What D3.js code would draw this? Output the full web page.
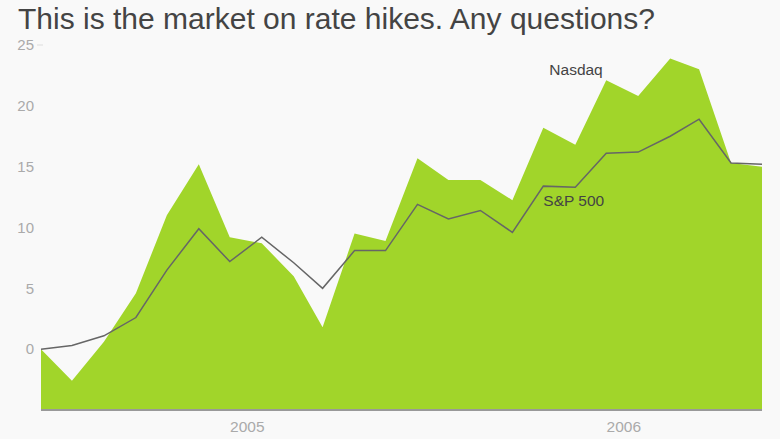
<!DOCTYPE html>
<html>
<head>
<meta charset="utf-8">
<script src="https://cdn.jsdelivr.net/npm/d3@7"></script>
<style>
  html, body { margin: 0; padding: 0; background: #f9f9f9; }
  svg { display: block; }
  text { font-family: "Liberation Sans", Arial, sans-serif; }
</style>
</head>
<body>
<svg id="chart" width="780" height="439"></svg>
<script>
// ---- data ----
const months = [
  "2004-06-15","2004-07-15","2004-08-15","2004-09-15","2004-10-15","2004-11-15",
  "2004-12-15","2005-01-15","2005-02-15","2005-03-15","2005-04-15","2005-05-15",
  "2005-06-15","2005-07-15","2005-08-15","2005-09-15","2005-10-15","2005-11-15",
  "2005-12-15","2006-01-15","2006-02-15","2006-03-15","2006-04-15","2006-05-15"
];
const nasdaq = [0, -2.6, 0.6, 4.6, 11.0, 15.2, 9.2, 8.7, 6.0, 1.8, 9.5, 8.9,
                15.7, 13.9, 13.9, 12.25, 18.2, 16.8, 22.1, 20.8, 23.9, 23.0, 15.3, 15.0];
const sp500  = [0, 0.3, 1.1, 2.6, 6.5, 9.9, 7.2, 9.2, 7.1, 5.0, 8.1, 8.1,
                11.9, 10.7, 11.4, 9.6, 13.4, 13.3, 16.1, 16.2, 17.5, 18.9, 15.3, 15.2];
const yTicks = [0, 5, 10, 15, 20, 25];
const xTickLabels = ["2005", "2006"];
const title = "This is the market on rate hikes. Any questions?";
const labelNasdaq = "Nasdaq";
const labelSP = "S&P 500";

(function () {
// ---- layout ----
const parse = d3.timeParse("%Y-%m-%d");
const dates = months.map(parse);
const svg = d3.select("#chart");
const mLeft = 41, mRight = 762, mTop = 45, mBottom = 410;

const x = d3.scaleTime().domain(d3.extent(dates)).range([mLeft, mRight]);
const y = d3.scaleLinear().domain([-5, 25]).range([mBottom, mTop]);

svg.append("text")
  .attr("x", 18).attr("y", 29)
  .attr("font-size", 30).attr("fill", "#444")
  .text(title);

// area (Nasdaq)
const area = d3.area()
  .x((d, i) => x(dates[i]))
  .y0(y(-5))
  .y1(d => y(d));
svg.append("path").datum(nasdaq)
  .attr("d", area)
  .attr("fill", "#a1d52a");

// baseline
svg.append("line")
  .attr("x1", mLeft).attr("x2", mRight)
  .attr("y1", y(-5)).attr("y2", y(-5))
  .attr("stroke", "#999").attr("stroke-width", 2);

// line (S&P 500)
const line = d3.line()
  .x((d, i) => x(dates[i]))
  .y(d => y(d));
svg.append("path").datum(sp500)
  .attr("d", line)
  .attr("fill", "none")
  .attr("stroke", "#666")
  .attr("stroke-width", 1.5)
  .attr("stroke-linejoin", "miter");

// y axis labels
const yAxis = svg.append("g");
yAxis.selectAll("text").data(yTicks).join("text")
  .attr("x", 34).attr("y", d => y(d))
  .attr("dy", "0.35em")
  .attr("text-anchor", "end")
  .attr("font-size", 15)
  .attr("fill", "#aaa")
  .text(d => d);
yAxis.append("line")
  .attr("x1", 37).attr("x2", 43)
  .attr("y1", y(yTicks[yTicks.length - 1])).attr("y2", y(yTicks[yTicks.length - 1]))
  .attr("stroke", "#ddd").attr("stroke-width", 1);

// x axis labels
const xTicks = x.ticks(d3.timeYear.every(1));
svg.append("g").selectAll("text").data(xTicks).join("text")
  .attr("x", d => x(d)).attr("y", 432)
  .attr("text-anchor", "middle")
  .attr("font-size", 15.5)
  .attr("fill", "#aaa")
  .text((d, i) => xTickLabels[i]);

// series labels
svg.append("text")
  .attr("x", x(dates[16]) + 6).attr("y", 75)
  .attr("font-size", 15.5).attr("fill", "#444")
  .text(labelNasdaq);
svg.append("text")
  .attr("x", x(dates[16])).attr("y", 206)
  .attr("font-size", 15.5).attr("fill", "#444")
  .text(labelSP);
})();
</script>
</body>
</html>
